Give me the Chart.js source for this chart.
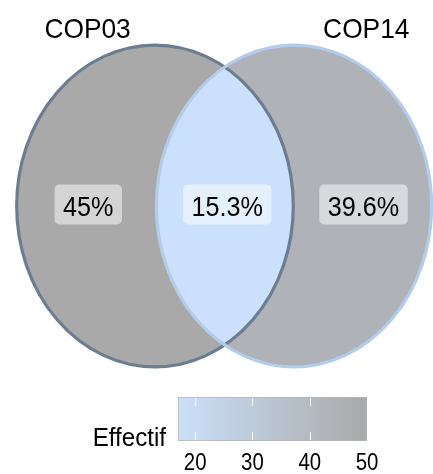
<!DOCTYPE html>
<html>
<head>
<meta charset="utf-8">
<script src="https://cdn.jsdelivr.net/npm/chart.js@4"></script>
<style>
  html, body { margin:0; padding:0; background:#fff; }
  #wrap { position:relative; width:433px; height:474px; }
  #venn { position:absolute; left:0; top:0; }
  #legend { position:absolute; left:0; top:385px; }
</style>
</head>
<body>
<div id="wrap">
  <canvas id="venn" width="433" height="385"></canvas>
  <canvas id="legend" width="433" height="89"></canvas>
</div>
<script>
// ---- data ----
const setNames = ['COP03', 'COP14'];
const setCenterX = [-0.5, 0.5];
const setCenterY = [0, 0];
const setRadiusX = [0.995, 0.99];
const setRadiusY = [1.158, 1.158];
const setLabelX = [-0.985, 1.02];
const setLabelY = [1.209, 1.209];

const regionNames = ['COP03', 'COP03..COP14', 'COP14'];
const regionCounts = [50, 17, 44];
const regionLabelX = [-0.98, 0.02, 1.0];
const regionLabelY = [0.011, 0.011, 0.011];

const legendTitle = 'Effectif';
const legendTicks = [20, 30, 40, 50];

// ---- colour scale ----
const lowColor = [203, 224, 250];
const highColor = [169, 169, 169];
const cMin = Math.min(...regionCounts);
const cMax = Math.max(...regionCounts);
function colorFor(v) {
  const t = (v - cMin) / (cMax - cMin);
  const c = lowColor.map((l, i) => Math.round(l + (highColor[i] - l) * t));
  return `rgb(${c[0]},${c[1]},${c[2]})`;
}
const total = regionCounts.reduce((a, b) => a + b, 0);
function pctLabel(v) {
  let s = (v / total * 100).toFixed(1);
  if (s.endsWith('.0')) s = s.slice(0, -2);
  return s + '%';
}

const borderColors = ['#6c7d90', '#b3ccec'];
const FONT = '"Liberation Sans", Arial, sans-serif';

// draw text with a slight horizontal condensation
function drawText(ctx, txt, x, y, size, sx, align) {
  ctx.save();
  ctx.translate(x, y);
  ctx.scale(sx, 1);
  ctx.font = `${size}px ${FONT}`;
  ctx.textAlign = align;
  ctx.textBaseline = 'alphabetic';
  ctx.fillStyle = '#000';
  ctx.fillText(txt, 0, 0);
  ctx.restore();
}
function textWidth(ctx, txt, size, sx) {
  ctx.save();
  ctx.font = `${size}px ${FONT}`;
  const w = ctx.measureText(txt).width * sx;
  ctx.restore();
  return w;
}

// ---- venn plugin ----
const vennPlugin = {
  id: 'venn',
  beforeDatasetsDraw(chart) {
    const { ctx, scales: { x, y } } = chart;
    const path = (i) => {
      const cx = x.getPixelForValue(setCenterX[i]);
      const cy = y.getPixelForValue(setCenterY[i]);
      const rx = x.getPixelForValue(setCenterX[i] + setRadiusX[i]) - cx;
      const ry = cy - y.getPixelForValue(setCenterY[i] + setRadiusY[i]);
      ctx.beginPath();
      ctx.ellipse(cx, cy, rx, ry, 0, 0, Math.PI * 2);
    };
    ctx.save();
    path(0); ctx.fillStyle = colorFor(regionCounts[0]); ctx.fill();
    path(1); ctx.fillStyle = colorFor(regionCounts[2]); ctx.fill();
    ctx.save();
    path(0); ctx.clip();
    path(1); ctx.fillStyle = colorFor(regionCounts[1]); ctx.fill();
    ctx.restore();
    ctx.lineWidth = 3.2;
    for (let i = 0; i < setNames.length; i++) {
      path(i); ctx.strokeStyle = borderColors[i]; ctx.stroke();
    }
    ctx.restore();
  },
  afterDatasetsDraw(chart) {
    const { ctx, scales: { x, y } } = chart;
    const size = 28, sx = 0.9;
    regionCounts.forEach((v, i) => {
      const txt = pctLabel(v);
      const px = x.getPixelForValue(regionLabelX[i]);
      const py = y.getPixelForValue(regionLabelY[i]);
      const w = textWidth(ctx, txt, size, sx) + 17;
      const h = 40;
      ctx.save();
      ctx.beginPath();
      ctx.roundRect(px - w / 2, py - h / 2, w, h, 5);
      ctx.fillStyle = 'rgba(255,255,255,0.5)';
      ctx.fill();
      ctx.restore();
      drawText(ctx, txt, px, py + 11.5, size, sx, 'center');
    });
    setNames.forEach((n, i) => {
      drawText(ctx, n, x.getPixelForValue(setLabelX[i]), y.getPixelForValue(setLabelY[i]), 28, 0.94, 'center');
    });
  }
};

new Chart(document.getElementById('venn'), {
  type: 'scatter',
  data: {
    datasets: [{
      label: 'regions',
      data: regionLabelX.map((v, i) => ({ x: v, y: regionLabelY[i] })),
      pointRadius: 0
    }]
  },
  options: {
    responsive: false,
    animation: false,
    layout: { padding: 0 },
    plugins: { legend: { display: false }, tooltip: { enabled: false } },
    scales: {
      x: { type: 'linear', min: -1.615, max: 1.5, display: false },
      y: { type: 'linear', min: -1.288, max: 1.482, display: false }
    }
  },
  plugins: [vennPlugin]
});

// ---- legend (colour bar) ----
const legendPlugin = {
  id: 'legendDeco',
  afterDatasetsDraw(chart) {
    const { ctx, chartArea: a, scales: { x } } = chart;
    ctx.save();
    ctx.strokeStyle = '#ffffff';
    ctx.lineWidth = 1;
    const h = a.bottom - a.top;
    legendTicks.forEach(v => {
      const px = Math.round(x.getPixelForValue(v)) + 0.5;
      ctx.beginPath();
      ctx.moveTo(px, a.top + 1); ctx.lineTo(px, a.top + h * 0.2);
      ctx.moveTo(px, a.bottom - h * 0.2); ctx.lineTo(px, a.bottom - 1);
      ctx.stroke();
    });
    ctx.restore();
    // tick labels from the library's scale ticks
    x.ticks.forEach(t => {
      drawText(ctx, String(t.value), x.getPixelForValue(t.value), a.bottom + 29, 24, 0.85, 'center');
    });
    drawText(ctx, legendTitle, a.left - 12, a.bottom + 5, 26.5, 0.91, 'right');
  }
};

new Chart(document.getElementById('legend'), {
  type: 'bar',
  data: {
    labels: [legendTitle],
    datasets: [{
      data: [[cMin, cMax]],
      backgroundColor(c) {
        const chart = c.chart;
        const { ctx, chartArea, scales } = chart;
        if (!chartArea) return colorFor(cMin);
        const x0 = scales.x.getPixelForValue(cMin);
        const x1 = scales.x.getPixelForValue(cMax);
        const g = ctx.createLinearGradient(x0, 0, x1, 0);
        for (let k = 0; k <= 10; k++) {
          g.addColorStop(k / 10, colorFor(cMin + (cMax - cMin) * k / 10));
        }
        return g;
      },
      borderColor: '#b5b5b5',
      borderWidth: 1,
      borderSkipped: false,
      barPercentage: 1,
      categoryPercentage: 1
    }]
  },
  options: {
    indexAxis: 'y',
    responsive: false,
    animation: false,
    layout: { padding: { left: 178, right: 66, top: 12, bottom: 0 } },
    plugins: { legend: { display: false }, tooltip: { enabled: false } },
    scales: {
      x: {
        type: 'linear', min: cMin, max: cMax,
        grid: { display: false, drawTicks: false },
        border: { display: false },
        afterBuildTicks(axis) { axis.ticks = legendTicks.map(v => ({ value: v })); },
        afterFit(axis) { axis.height = 33; },
        ticks: { display: false }
      },
      y: { display: false }
    }
  },
  plugins: [legendPlugin]
});
</script>
</body>
</html>
